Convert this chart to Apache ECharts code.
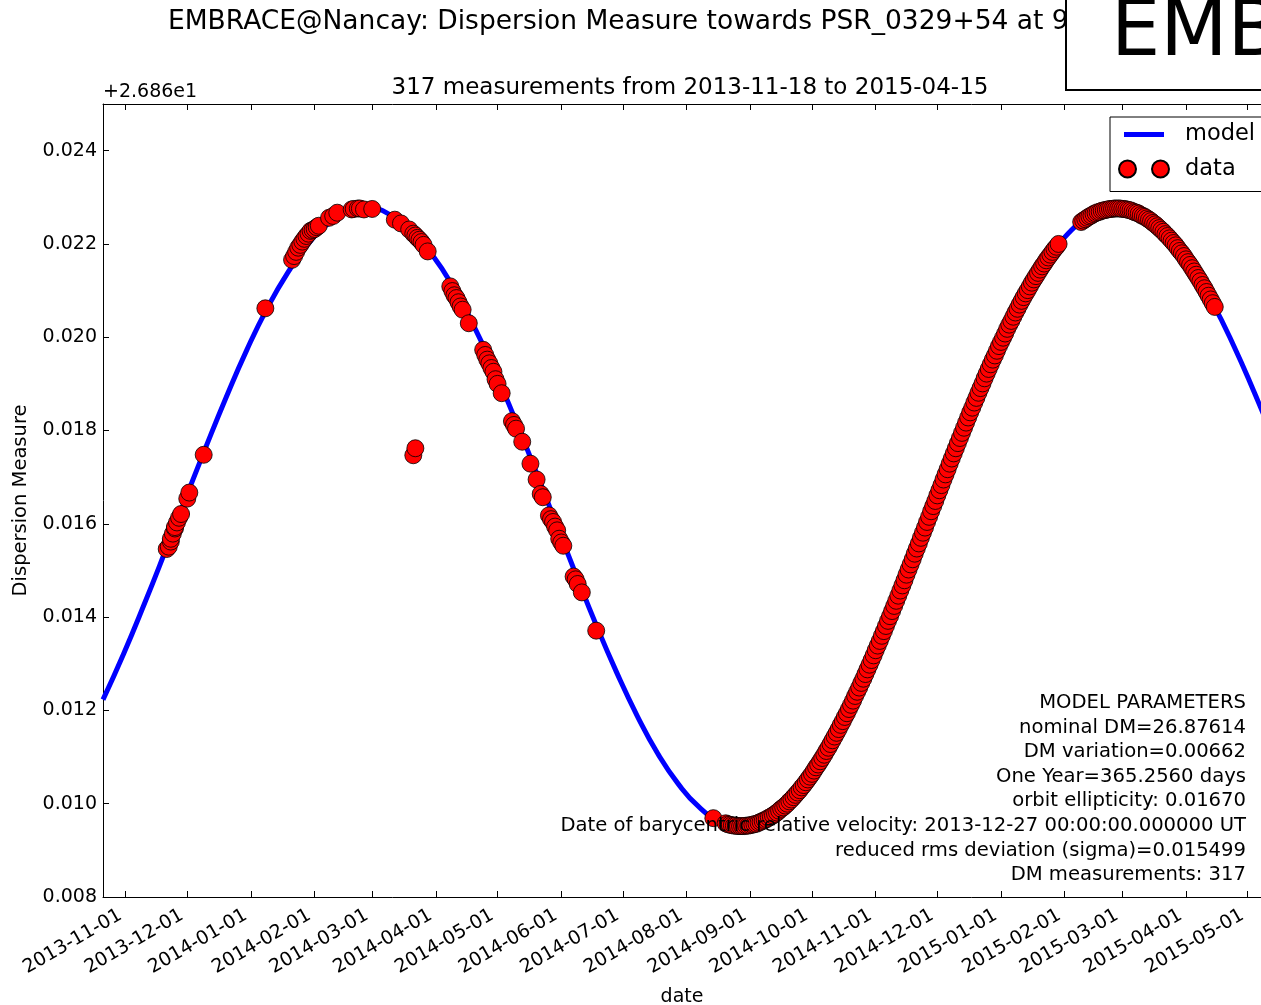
<!DOCTYPE html>
<html>
<head>
<meta charset="utf-8">
<script src="https://cdn.jsdelivr.net/npm/echarts@6/dist/echarts.min.js"></script>
<style>
  html, body { margin: 0; padding: 0; background: #fff; }
  #chart { width: 1261px; height: 1005px; }
</style>
</head>
<body>
<div id="chart"></div>
<script>
// Day numbers count from this date (UTC midnight).
const EPOCH = '2013-11-01';
const DAY_MS = 86400000;

// DM values below are relative to the axis offset shown in the corner.
const offsetLabel = '+2.686e1';

const mainTitle = 'EMBRACE@Nancay: Dispersion Measure towards PSR_0329+54 at 968MHz';
const subTitle = '317 measurements from 2013-11-18 to 2015-04-15';
const stampText = 'EMBRACE';
const xName = 'date';
const yName = 'Dispersion Measure';

const xRange = ['2013-10-21T00:00:00Z', '2015-05-07T12:00:00Z'];
const yRange = [0.008, 0.025];
const yStep = 0.002;

const monthTicks = [
  '2013-11-01', '2013-12-01', '2014-01-01', '2014-02-01', '2014-03-01', '2014-04-01',
  '2014-05-01', '2014-06-01', '2014-07-01', '2014-08-01', '2014-09-01', '2014-10-01',
  '2014-11-01', '2014-12-01', '2015-01-01', '2015-02-01', '2015-03-01', '2015-04-01',
  '2015-05-01'
];

// Fitted annual model curve
const modelDay = [
  -11, -1, 9, 19, 29, 39, 49, 59, 69, 79, 89, 99, 109, 119, 129, 139, 149, 159, 169, 179,
  189, 199, 209, 219, 229, 239, 249, 259, 269, 279, 289, 299, 309, 319, 329, 339, 349, 359,
  369, 379, 389, 399, 409, 419, 429, 439, 449, 459, 469, 479, 489, 499, 509, 519, 529, 539,
  549, 559
];
const modelDM = [
  0.01223, 0.01321, 0.01427, 0.01538, 0.01652, 0.01764, 0.01872, 0.01973, 0.02063, 0.02139,
  0.02201, 0.02245, 0.02270, 0.02276, 0.02262, 0.02229, 0.02178, 0.02111, 0.02028, 0.01934,
  0.01830, 0.01720, 0.01606, 0.01493, 0.01383, 0.01281, 0.01188, 0.01107, 0.01042, 0.00993,
  0.00963, 0.00952, 0.00961, 0.00989, 0.01035, 0.01098, 0.01177, 0.01268, 0.01370, 0.01479,
  0.01592, 0.01706, 0.01817, 0.01921, 0.02017, 0.02101, 0.02171, 0.02224, 0.02259, 0.02275,
  0.02272, 0.02249, 0.02207, 0.02148, 0.02073, 0.01984, 0.01884, 0.01778
];

// Measurements
const obsDay = [
  20, 21, 22, 22, 23, 24, 24, 25, 26, 27, 30, 31,
  38, 68,
  81, 82, 83, 84, 85, 86, 87, 88, 89, 90, 91, 92, 93, 94, 99, 101, 103,
  110, 111, 113, 114, 116, 120,
  131, 134, 138, 140, 141, 142, 143, 144, 145, 147,
  140, 141,
  158, 159, 160, 161, 162, 163, 164, 167,
  174, 175, 176, 177, 178, 179, 180, 181, 183,
  188, 189, 190, 193,
  197, 200, 202, 203,
  206, 207, 208, 209, 210, 211, 212, 213,
  218, 219, 220, 222,
  229, 286,
  292, 293, 294, 295, 296, 297, 298, 299, 300, 301, 302, 303, 304, 305, 306, 307, 308, 309,
  310, 311, 312, 313, 314, 315, 316, 317, 318, 319, 320, 321, 322, 323, 324, 325, 326, 327,
  328, 329, 330, 331, 332, 333, 334, 335, 336, 337, 338, 339, 340, 341, 342, 343, 344, 345,
  346, 347, 348, 349, 350, 351, 352, 353, 354, 355, 356, 357, 358, 359, 360, 361, 362, 363,
  364, 365, 366, 367, 368, 369, 370, 371, 372, 373, 374, 375, 376, 377, 378, 379, 380, 381,
  382, 383, 384, 385, 386, 387, 388, 389, 390, 391, 392, 393, 394, 395, 396, 397, 398, 399,
  400, 401, 402, 403, 404, 405, 406, 407, 408, 409, 410, 411, 412, 413, 414, 415, 416, 417,
  418, 419, 420, 421, 422, 423, 424, 425, 426, 427, 428, 429, 430, 431, 432, 433, 434, 435,
  436, 437, 438, 439, 440, 441, 442, 443, 444, 445, 446, 447, 448, 449, 450, 451, 452, 453,
  454,
  465, 466, 467, 468, 469, 470, 471, 472, 473, 474, 475, 476, 477, 478, 479, 480, 481, 482,
  483, 484, 485, 486, 487, 488, 489, 490, 491, 492, 493, 494, 495, 496, 497, 498, 499, 500,
  501, 502, 503, 504, 505, 506, 507, 508, 509, 510, 511, 512, 513, 514, 515, 516, 517, 518,
  519, 520, 521, 522, 523, 524, 525, 526, 527, 528, 529, 530
];
const obsDM = [
  0.01546, 0.01551, 0.01562, 0.01568, 0.01579, 0.01590, 0.01593, 0.01603, 0.01613, 0.01621, 0.01654, 0.01667,
  0.01748, 0.02062,
  0.02166, 0.02174, 0.02183, 0.02192, 0.02198, 0.02205, 0.02211, 0.02217, 0.02222, 0.02228, 0.02230, 0.02232,
  0.02236, 0.02239, 0.02256, 0.02260, 0.02267,
  0.02274, 0.02275, 0.02276, 0.02276, 0.02274, 0.02275,
  0.02252, 0.02244, 0.02231, 0.02222, 0.02218, 0.02213, 0.02209, 0.02204, 0.02198, 0.02184,
  0.01747, 0.01762,
  0.02109, 0.02099, 0.02090, 0.02084, 0.02075, 0.02066, 0.02059, 0.02030,
  0.01973, 0.01962, 0.01952, 0.01944, 0.01934, 0.01926, 0.01910, 0.01900, 0.01880,
  0.01820, 0.01812, 0.01804, 0.01776,
  0.01729, 0.01695, 0.01664, 0.01657,
  0.01618, 0.01610, 0.01604, 0.01594, 0.01586, 0.01568, 0.01560, 0.01553,
  0.01487, 0.01481, 0.01471, 0.01453,
  0.01371, 0.00969,
  0.00958, 0.00956, 0.00955, 0.00954, 0.00953, 0.00953, 0.00952, 0.00952, 0.00952, 0.00952,
  0.00953, 0.00953, 0.00954, 0.00955, 0.00956, 0.00957, 0.00959, 0.00961, 0.00963, 0.00965,
  0.00967, 0.00970, 0.00972, 0.00975, 0.00978, 0.00981, 0.00985, 0.00989, 0.00992, 0.00996,
  0.01000, 0.01005, 0.01009, 0.01014, 0.01019, 0.01024, 0.01029, 0.01035, 0.01040, 0.01046,
  0.01052, 0.01058, 0.01064, 0.01071, 0.01078, 0.01084, 0.01091, 0.01098, 0.01105, 0.01113,
  0.01120, 0.01128, 0.01136, 0.01144, 0.01152, 0.01160, 0.01169, 0.01177, 0.01186, 0.01194,
  0.01203, 0.01212, 0.01221, 0.01231, 0.01240, 0.01249, 0.01259, 0.01268, 0.01278, 0.01288,
  0.01298, 0.01308, 0.01318, 0.01329, 0.01339, 0.01349, 0.01360, 0.01370, 0.01381, 0.01392,
  0.01402, 0.01413, 0.01424, 0.01435, 0.01446, 0.01457, 0.01468, 0.01479, 0.01491, 0.01502,
  0.01513, 0.01524, 0.01536, 0.01547, 0.01558, 0.01570, 0.01581, 0.01592, 0.01604, 0.01615,
  0.01627, 0.01638, 0.01649, 0.01661, 0.01672, 0.01683, 0.01695, 0.01706, 0.01717, 0.01729,
  0.01740, 0.01751, 0.01762, 0.01773, 0.01784, 0.01795, 0.01806, 0.01817, 0.01828, 0.01839,
  0.01849, 0.01860, 0.01870, 0.01881, 0.01891, 0.01901, 0.01912, 0.01922, 0.01932, 0.01942,
  0.01952, 0.01961, 0.01971, 0.01981, 0.01990, 0.01999, 0.02008, 0.02018, 0.02027, 0.02035,
  0.02044, 0.02053, 0.02061, 0.02070, 0.02078, 0.02086, 0.02094, 0.02101, 0.02109, 0.02117,
  0.02124, 0.02131, 0.02138, 0.02145, 0.02152, 0.02158, 0.02165, 0.02171, 0.02177, 0.02183,
  0.02189, 0.02194, 0.02200,
  0.02247, 0.02250, 0.02253, 0.02256, 0.02259, 0.02261, 0.02264, 0.02266, 0.02268, 0.02269,
  0.02271, 0.02272, 0.02273, 0.02274, 0.02275, 0.02275, 0.02276, 0.02276, 0.02276, 0.02276,
  0.02275, 0.02275, 0.02274, 0.02273, 0.02272, 0.02270, 0.02268, 0.02267, 0.02265, 0.02262,
  0.02260, 0.02258, 0.02255, 0.02252, 0.02249, 0.02245, 0.02242, 0.02238, 0.02234, 0.02230,
  0.02226, 0.02221, 0.02217, 0.02212, 0.02207, 0.02202, 0.02197, 0.02191, 0.02185, 0.02180,
  0.02174, 0.02167, 0.02161, 0.02155, 0.02148, 0.02141, 0.02134, 0.02127, 0.02120, 0.02112,
  0.02105, 0.02097, 0.02089, 0.02081, 0.02073, 0.02065
];

const paramLines = [
  'MODEL PARAMETERS',
  'nominal DM=26.87614',
  'DM variation=0.00662',
  'One Year=365.2560 days',
  'orbit ellipticity: 0.01670',
  'Date of barycentric relative velocity: 2013-12-27 00:00:00.000000 UT',
  'reduced rms deviation (sigma)=0.015499',
  'DM measurements: 317'
];

// ---- build ----
const FONT = 'DejaVu Sans';
const t0 = Date.parse(EPOCH);
const dayToTime = d => t0 + d * DAY_MS;
const tickTimes = monthTicks.map(s => Date.parse(s));
const fmtDate = v => new Date(v).toISOString().slice(0, 10);

const modelPts = modelDay.map((d, i) => [dayToTime(d), modelDM[i]]);
const obsPts = obsDay.map((d, i) => [dayToTime(d), obsDM[i]]);

const chart = echarts.init(document.getElementById('chart'), null, { renderer: 'canvas' });

const tickStyle = { inside: true, length: 6, lineStyle: { color: '#000', width: 1 } };
const axisLineStyle = { show: true, lineStyle: { color: '#000', width: 1 } };
const labelText = { fontFamily: FONT, fontSize: 19, color: '#000' };

// Legend swatches: a short thick stroke inset in its slot, and a pair of markers.
const modelIcon = 'path://M-5,0L-5,0M45,5L45,5M0,0H40V5H0Z';
const dataIcon = 'path://M0,8.5A8.5,8.5,0,1,1,17,8.5A8.5,8.5,0,1,1,0,8.5ZM33,8.5A8.5,8.5,0,1,1,50,8.5A8.5,8.5,0,1,1,33,8.5Z';

chart.setOption({
  animation: false,
  backgroundColor: '#fff',
  textStyle: { fontFamily: FONT },
  // the right-hand frame edge lies just past the page edge, so only the
  // left, top and bottom spines are drawn (as axis lines)
  grid: {
    left: 103, right: 0, top: 104, bottom: 108, show: false,
    containLabel: false, outerBoundsMode: 'none'
  },
  legend: {
    orient: 'vertical',
    left: 1110, top: 117,
    padding: [6, 30, 11, 8],
    itemGap: 11.5,
    itemWidth: 50, itemHeight: 17,
    backgroundColor: '#fff',
    borderColor: '#000', borderWidth: 1, borderRadius: 0,
    textStyle: { fontFamily: FONT, fontSize: 22.5, color: '#000', padding: [0, 0, 0, 11], lineHeight: 22.5 },
    data: [
      { name: 'model', icon: modelIcon },
      { name: 'data', icon: dataIcon }
    ]
  },
  xAxis: [
    {
      type: 'value', position: 'bottom',
      min: Date.parse(xRange[0]), max: Date.parse(xRange[1]),
      axisLine: axisLineStyle,
      axisTick: Object.assign({ customValues: tickTimes }, tickStyle),
      axisLabel: Object.assign({
        customValues: tickTimes, formatter: fmtDate, rotate: 30, margin: 14,
        padding: [0, 6, 0, 0], hideOverlap: false
      }, labelText),
      splitLine: { show: false },
      name: xName, nameLocation: 'middle', nameGap: 91,
      nameTextStyle: labelText
    },
    {
      type: 'value', position: 'top',
      min: Date.parse(xRange[0]), max: Date.parse(xRange[1]),
      axisLine: axisLineStyle,
      axisTick: Object.assign({ customValues: tickTimes }, tickStyle),
      axisLabel: { show: false, customValues: tickTimes },
      splitLine: { show: false }
    }
  ],
  yAxis: [
    {
      type: 'value', position: 'left',
      min: yRange[0], max: yRange[1], interval: yStep,
      axisLine: axisLineStyle,
      axisTick: tickStyle,
      axisLabel: Object.assign({
        formatter: v => v.toFixed(3), margin: 6, showMaxLabel: false
      }, labelText),
      splitLine: { show: false },
      name: yName, nameLocation: 'middle', nameGap: 72,
      nameTextStyle: Object.assign({}, labelText, { fontSize: 19.5 })
    }
  ],
  series: [
    {
      name: 'model', type: 'line', data: modelPts,
      xAxisIndex: 0, yAxisIndex: 0,
      symbol: 'none', showSymbol: false, smooth: true, clip: true,
      lineStyle: { color: '#0000ff', width: 5 },
      itemStyle: { color: '#0000ff' },
      z: 2, silent: true
    },
    {
      name: 'data', type: 'scatter', data: obsPts,
      xAxisIndex: 0, yAxisIndex: 0,
      symbol: 'circle', symbolSize: 17, clip: true,
      itemStyle: { color: '#ff0000', borderColor: '#000', borderWidth: 0.8, opacity: 1 },
      z: 3
    }
  ],
  graphic: [
    {
      type: 'text', x: 168, y: 22.5, z: 40,
      style: { text: mainTitle, fontFamily: FONT, fontSize: 26.5, fill: '#000',
               align: 'left', verticalAlign: 'middle', textAlign: 'left', textVerticalAlign: 'middle' }
    },
    {
      type: 'rect', z: 50,
      shape: { x: 1066, y: -60, width: 400, height: 150 },
      style: { fill: '#fff', stroke: '#000', lineWidth: 2 }
    },
    {
      type: 'text', x: 1111, y: 35, z: 60,
      style: { text: stampText, fontFamily: FONT, fontSize: 78, fill: '#000',
               align: 'left', verticalAlign: 'middle', textAlign: 'left', textVerticalAlign: 'middle' }
    },
    {
      type: 'text', x: 690, y: 88, z: 40,
      style: { text: subTitle, fontFamily: FONT, fontSize: 23, fill: '#000',
               align: 'center', verticalAlign: 'middle', textAlign: 'center', textVerticalAlign: 'middle' }
    },
    {
      type: 'text', x: 103, y: 92, z: 40,
      style: { text: offsetLabel, fontFamily: FONT, fontSize: 19, fill: '#000',
               align: 'left', verticalAlign: 'middle', textAlign: 'left', textVerticalAlign: 'middle' }
    },
    {
      type: 'text', x: 1246, y: 690.7, z: 100,
      style: { text: paramLines.join('\n'), fontFamily: FONT, fontSize: 19.6, lineHeight: 24.6, fill: '#000',
               align: 'right', verticalAlign: 'top', textAlign: 'right', textVerticalAlign: 'top' }
    }
  ]
});
</script>
</body>
</html>
